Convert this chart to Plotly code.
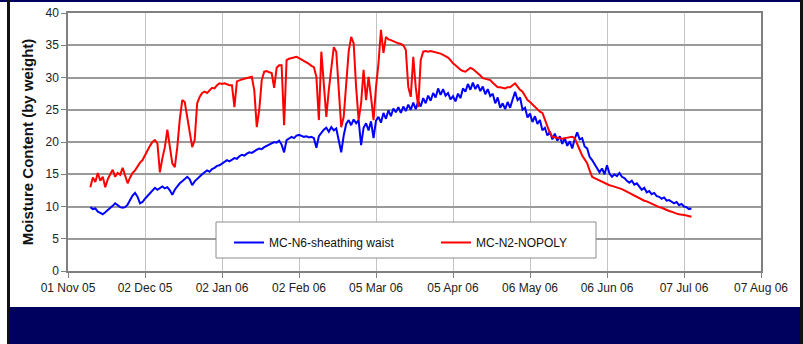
import pandas as pd
import plotly.graph_objects as go

# ---------------- data (daily values) ----------------
START = "2005-11-10"
SERIES_BLUE_NAME = "MC-N6-sheathing waist"
SERIES_RED_NAME = "MC-N2-NOPOLY"

blue = [
    9.9, 9.6, 9.7, 9.2, 9.0, 8.8, 9.1, 9.4, 9.8, 10.1,
    10.5, 10.2, 9.9, 9.8, 9.9, 10.3, 11.0, 11.7, 12.1, 11.5,
    10.5, 10.7, 11.2, 11.6, 12.0, 12.4, 12.9, 12.6, 12.8, 13.1,
    12.8, 13.0, 12.5, 11.8, 12.6, 13.2, 13.6, 13.9, 14.3, 14.6,
    14.2, 13.3, 13.9, 14.3, 14.7, 15.0, 15.3, 15.6, 15.4, 15.8,
    16.0, 16.3, 16.4, 16.7, 17.0, 17.2, 17.0, 17.3, 17.5, 17.4,
    17.8, 18.0, 17.9, 18.2, 18.4, 18.3, 18.6, 18.8, 19.0, 18.9,
    19.2, 19.4, 19.5, 19.8, 20.0, 19.9, 20.2, 19.6, 18.4, 20.3,
    20.5, 20.8, 20.6, 21.0, 21.1, 20.9, 20.8, 20.9, 20.7, 20.8,
    20.6, 19.1, 20.9, 21.4, 21.9, 22.2, 21.6, 22.3, 21.8, 22.1,
    20.5, 18.4, 21.0, 22.8, 23.4, 22.6, 23.5, 22.9, 23.4, 19.5,
    22.2, 22.9, 21.8, 23.2, 20.6, 23.3,
    23.9, 23.0, 24.5, 23.6, 24.9, 24.0, 25.2, 24.6, 25.4, 24.5,
    25.5, 24.8, 25.8, 25.0, 26.1, 25.1, 26.3, 25.5, 26.8, 26.0,
    27.2, 26.4, 27.6, 26.9, 28.3, 27.3, 28.2, 27.2, 27.6, 26.6,
    27.1, 26.3, 27.5, 26.8, 28.3, 27.8, 29.0, 28.1, 29.2, 28.2,
    28.9, 27.9, 28.6, 27.4, 28.2, 27.1, 27.5, 26.0, 26.9, 25.3,
    26.0, 25.1, 26.2, 25.3, 26.6, 27.8, 26.5, 26.9, 25.0, 25.3,
    23.8, 24.4, 23.1, 24.0, 22.8, 23.4, 21.8, 22.2, 21.0, 21.6,
    20.4, 21.3, 20.2, 20.9, 19.7, 20.6, 19.4, 20.1, 19.0, 20.5,
    21.5, 20.4, 20.6, 19.3, 19.0, 17.7, 17.2, 16.6, 16.1, 15.3,
    15.9, 15.0, 16.4, 15.1, 14.6, 15.0, 14.7, 15.2, 14.6, 14.4,
    14.0, 13.7, 14.0, 13.4, 13.6, 13.0, 12.6, 12.9, 12.2, 12.4,
    11.9, 12.1, 11.6, 11.5, 11.2, 11.4, 10.9, 11.0, 10.7, 10.5,
    10.7, 10.2, 10.4, 10.0, 9.9, 9.6, 9.7,
]

red = [
    13.0, 14.5, 13.8, 15.2, 14.0, 14.6, 13.0, 14.2, 15.0, 15.7, 14.6, 15.2, 14.9, 16.0,
    14.8, 13.6, 14.5, 15.2, 15.6, 16.3, 16.8, 17.2, 18.0, 18.6, 19.4, 20.0, 20.3, 19.8,
    15.3, 17.5, 19.2, 21.9, 19.5, 16.7, 16.1, 19.2, 23.5, 26.5, 26.2, 24.0, 21.6, 19.2,
    20.3, 26.0, 27.0, 27.6, 27.8, 27.6, 28.0, 28.4, 28.3, 28.8, 29.1, 29.0, 29.1, 28.9,
    28.8, 28.8, 25.4, 29.4, 29.6, 29.7, 29.8, 29.9, 30.0, 30.1, 28.0, 22.3, 25.0, 29.6,
    30.9, 31.0, 30.8, 30.7, 28.4, 31.5, 31.9, 31.9, 22.6, 32.7, 32.9, 33.0, 33.1, 33.2,
    33.0, 32.8, 32.6, 32.4, 32.1, 31.8, 31.6, 30.1, 23.4, 34.0, 28.5, 23.9, 28.1, 31.2,
    34.7, 34.0, 28.0, 22.3, 23.9, 28.5, 34.0, 36.3, 35.3, 28.5, 23.4, 26.0, 31.2, 26.5,
    30.1, 27.0, 23.4, 28.5, 32.2, 37.4, 33.8, 36.3, 35.9, 35.8, 35.6, 35.5, 35.3, 35.2,
    35.0, 34.3, 28.5, 27.0, 33.2, 28.5, 25.4, 32.7, 34.0, 34.1, 34.0, 34.1, 34.0, 34.0,
    33.9, 33.7, 33.5, 33.3, 33.1, 32.7, 32.2, 31.9, 31.5, 31.2, 31.0, 30.9, 31.2, 31.5,
    31.3, 31.0, 30.7, 30.3, 29.9, 29.8, 29.7, 29.6, 29.2, 28.8, 28.5, 28.5, 28.4, 28.3,
    28.5, 28.5, 28.8, 29.1, 28.6, 28.1, 27.8, 27.2, 26.5, 26.2, 25.8, 25.4, 25.0, 24.7,
    24.5, 23.4, 22.2, 21.4, 20.8, 20.7, 20.6, 20.6, 20.5, 20.6, 20.7, 20.8, 20.8, 20.6,
    19.8, 18.8, 17.9, 17.3, 16.7, 15.6, 14.6, 14.4, 14.2, 14.1, 13.9, 13.7, 13.5, 13.3,
    13.2, 13.1, 13.0, 12.9, 12.7, 12.5, 12.3, 12.0, 11.8, 11.6, 11.5, 11.3, 11.1, 10.9,
    10.8, 10.6, 10.5, 10.3, 10.1, 9.9, 9.8, 9.6, 9.5, 9.3, 9.2, 9.0, 8.9, 8.8, 8.8, 8.7,
    8.6, 8.5, 8.4,
]

tick_dates = ["2005-11-01", "2005-12-02", "2006-01-02", "2006-02-02", "2006-03-05",
              "2006-04-05", "2006-05-06", "2006-06-06", "2006-07-07", "2006-08-07"]
tick_text = ["01 Nov 05", "02 Dec 05", "02 Jan 06", "02 Feb 06", "05 Mar 06",
             "05 Apr 06", "06 May 06", "06 Jun 06", "07 Jul 06", "07 Aug 06"]
y_ticks = [0, 5, 10, 15, 20, 25, 30, 35, 40]

dates_blue = pd.date_range(START, periods=len(blue), freq="D")
dates_red = pd.date_range(START, periods=len(red), freq="D")

# ---------------- layout geometry ----------------
W, H = 803, 344
PL, PR, PT, PB = 68, 761, 13, 271  # plot area in pixels


def px_x(p):
    return (p - PL) / (PR - PL)


def px_y(p):
    return (PB - p) / (PB - PT)


FONT = "Liberation Sans, Arial, sans-serif"
GRID_H = "#9a9a9a"
GRID_V = "#c4c4c4"
NAVY = "#00005f"

fig = go.Figure()
fig.add_trace(go.Scatter(x=dates_blue, y=blue, mode="lines", name=SERIES_BLUE_NAME,
                         line=dict(color="#0000ff", width=2)))
fig.add_trace(go.Scatter(x=dates_red, y=red, mode="lines", name=SERIES_RED_NAME,
                         line=dict(color="#ff0000", width=2)))

shapes = [
    # legend box
    dict(type="rect", xref="paper", yref="paper", layer="above",
         x0=px_x(216), x1=px_x(596), y0=px_y(258), y1=px_y(222),
         fillcolor="white", line=dict(color="#8c8c8c", width=1)),
    # bottom navy band
    dict(type="rect", xref="paper", yref="paper", layer="above",
         x0=px_x(8), x1=px_x(803), y0=px_y(344), y1=px_y(307),
         fillcolor=NAVY, line=dict(width=0)),
    # top navy line
    dict(type="rect", xref="paper", yref="paper", layer="above",
         x0=px_x(0), x1=px_x(803), y0=px_y(2), y1=px_y(0),
         fillcolor=NAVY, line=dict(width=0)),
    # left dark border
    dict(type="rect", xref="paper", yref="paper", layer="above",
         x0=px_x(7), x1=px_x(10), y0=px_y(344), y1=px_y(0),
         fillcolor="#111111", line=dict(width=0)),
    # right dark border
    dict(type="rect", xref="paper", yref="paper", layer="above",
         x0=px_x(800), x1=px_x(803), y0=px_y(344), y1=px_y(0),
         fillcolor="#111111", line=dict(width=0)),
]

fig.update_layout(
    width=W, height=H,
    margin=dict(l=PL, r=W - PR, t=PT, b=H - PB, autoexpand=False),
    paper_bgcolor="white", plot_bgcolor="white",
    font=dict(family=FONT, size=12, color="#222222"),
    showlegend=True,
    legend=dict(orientation="h", x=px_x(229), y=px_y(228), xanchor="left", yanchor="top",
                bgcolor="rgba(0,0,0,0)", borderwidth=0,
                entrywidth=162, entrywidthmode="pixels",
                font=dict(family=FONT, size=12, color="#111111")),
    shapes=shapes,
)

fig.update_xaxes(
    type="date", range=["2005-11-01", "2006-08-07"],
    tickmode="array", tickvals=tick_dates, ticktext=tick_text,
    showgrid=True, gridcolor=GRID_V, gridwidth=1,
    showline=True, linecolor="#808080", linewidth=1.5, mirror=True,
    ticks="outside", ticklen=5, tickcolor="#808080",
    tickfont=dict(family=FONT, size=12, color="#222222"),
    automargin=False, zeroline=False,
)
fig.update_yaxes(
    range=[0, 40], tickmode="array", tickvals=y_ticks,
    showgrid=True, gridcolor=GRID_H, gridwidth=1.5,
    showline=True, linecolor="#808080", linewidth=1.5, mirror=True,
    ticks="outside", ticklen=5, tickcolor="#808080",
    tickfont=dict(family=FONT, size=12, color="#222222"),
    title=dict(text="<b>Moisture Content (by weight)</b>", standoff=8,
               font=dict(family=FONT, size=15, color="#111111")),
    automargin=False, zeroline=False,
)

fig.write_html("out.html")
